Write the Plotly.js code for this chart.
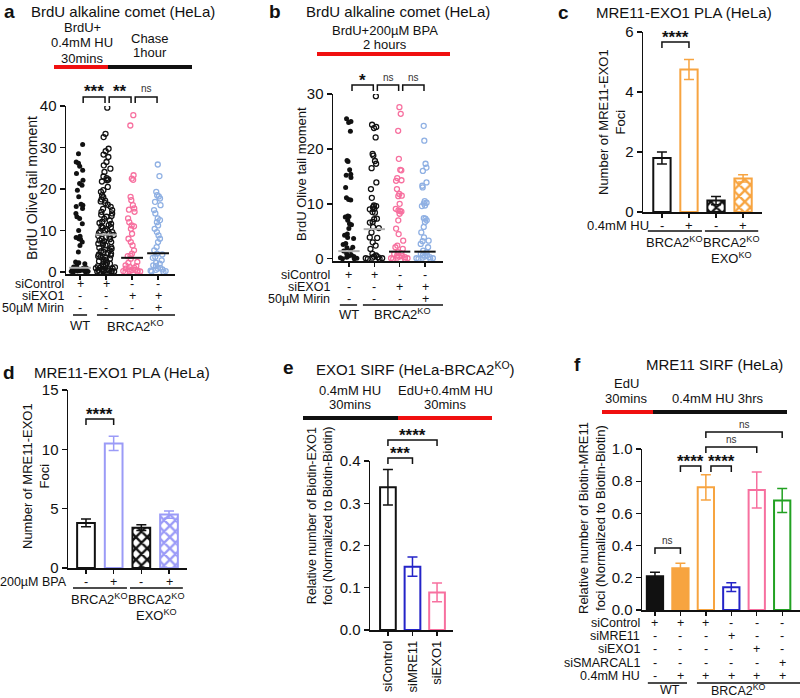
<!DOCTYPE html>
<html>
<head>
<meta charset="utf-8">
<script src="https://cdn.plot.ly/plotly-3.0.1.min.js"></script>
<style>body{margin:0;background:#fff}#plot{width:800px;height:698px}</style>
</head>
<body>
<div id="plot"></div>
<script>
// panel a - BrdU comet, HU then chase
var aWT = [30.7, 28.5, 26.5, 26.2, 25.5, 24.5, 23.7, 22.1, 21.3, 20.9, 19.7, 18.1, 16.3, 16.1, 15.8, 15.3,
  14.1, 13.3, 12.9, 11.6, 10.0, 8.6, 8.3, 8.0, 7.9, 7.2, 6.4, 4.8, 2.4, 2.2, 2.0, 1.5, 1.2, 1.0, 0.9,
  0.8, 0.6, 0.5, 0.4, 0.3, 0.3, 0.2, 0.1, 0.1, 0.0, 0.0];
var aKO = [39.6, 33.3, 32.5, 29.7, 29.1, 28.3, 27.7, 26.5, 25.7, 24.9, 24.1, 23.0, 22.6, 22.3, 22.1, 21.8,
  20.5, 19.7, 19.3, 18.5, 18.0, 17.5, 17.2, 17.0, 16.6, 16.2, 15.7, 15.2, 14.9, 14.5, 14.1, 13.8, 13.5,
  13.3, 12.8, 12.4, 12.1, 11.8, 11.6, 11.3, 11.0, 10.8, 10.6, 10.3, 10.0, 9.8, 9.6, 9.4, 9.2, 8.9, 8.7,
  8.5, 8.4, 8.0, 7.9, 7.6, 7.4, 7.2, 7.0, 6.8, 6.6, 6.4, 6.0, 5.8, 5.6, 5.4, 5.2, 5.0, 4.8, 4.6, 4.4,
  4.2, 4.0, 3.8, 3.6, 3.4, 3.2, 3.0, 2.8, 2.6, 2.4, 2.2, 2.0, 1.8, 1.6, 1.4, 1.3, 1.1, 1.0, 0.9, 0.8,
  0.7, 0.6, 0.5, 0.4, 0.3, 0.3, 0.2, 0.2, 0.1, 0.1, 0.0, 0.0];
var aEXO1 = [37.8, 35.3, 23.3, 22.5, 22.2, 18.1, 17.3, 16.1, 15.3, 15.0, 14.5, 12.9, 12.0, 11.2, 11.0,
  10.4, 9.2, 8.0, 7.2, 6.4, 5.2, 4.4, 3.9, 3.8, 3.2, 2.4, 2.2, 1.6, 1.4, 1.2, 1.0, 0.8, 0.6, 0.5, 0.4,
  0.3, 0.2, 0.2, 0.1, 0.0, 0.0];
var aMirin = [25.9, 23.1, 19.3, 18.5, 18.2, 17.7, 16.9, 16.1, 14.9, 14.1, 12.9, 12.5, 12.0, 11.2, 10.4,
  9.6, 8.8, 8.0, 7.2, 6.0, 5.2, 4.4, 4.2, 3.6, 3.4, 2.8, 2.2, 2.0, 1.6, 1.4, 1.0, 0.8, 0.6, 0.5, 0.3,
  0.2, 0.1, 0.0];
var aMedian = [1.0, 9.0, 3.4, 4.5];
var aSig = ['***', '**', 'ns'];

// panel b - BrdU comet, BPA
var bWT = [25.5, 25.0, 24.8, 23.2, 17.9, 17.7, 16.2, 15.4, 15.2, 14.8, 13.0, 11.1, 10.8, 10.7, 7.8, 7.7,
  7.6, 7.0, 6.4, 6.2, 5.5, 4.5, 4.3, 3.9, 3.7, 2.8, 2.6, 2.1, 2.0, 1.5, 1.4, 0.9, 0.7, 0.5, 0.4, 0.3,
  0.2, 0.1, 0.0, 0.0];
var bKO = [29.6, 24.4, 24.0, 23.8, 22.1, 19.1, 18.8, 17.8, 17.3, 16.5, 13.9, 12.7, 11.1, 9.7, 9.6, 9.4,
  9.1, 9.0, 8.5, 8.4, 7.3, 7.2, 6.7, 6.6, 5.8, 5.6, 4.8, 3.9, 3.8, 3.0, 2.4, 1.8, 0.9, 0.6, 0.4, 0.3,
  0.2, 0.1, 0.1, 0.0, 0.0];
var bEXO1 = [27.6, 26.4, 23.3, 18.2, 16.2, 16.1, 14.7, 14.3, 14.2, 12.7, 11.8, 11.5, 11.4, 10.0, 9.1,
  8.8, 8.7, 8.6, 8.2, 7.0, 5.5, 4.5, 3.3, 2.4, 2.1, 1.8, 1.2, 1.0, 0.9, 0.6, 0.5, 0.4, 0.3, 0.2, 0.1,
  0.1, 0.0, 0.0];
var bMirin = [24.2, 21.5, 17.3, 16.6, 16.0, 13.9, 13.3, 13.0, 10.5, 10.2, 10.1, 9.7, 9.6, 7.4, 7.3, 7.0,
  6.7, 5.8, 4.8, 3.9, 3.3, 3.2, 2.7, 2.1, 1.5, 1.2, 0.9, 0.7, 0.6, 0.4, 0.3, 0.2, 0.1, 0.1, 0.0, 0.0];
var bMedian = [1.4, 5.4, 1.3, 1.3];
var bSig = ['*', 'ns', 'ns'];

var cometRows = ['siControl', 'siEXO1', '50µM Mirin'];
var cometSigns = [['+', '+', '-', '-'], ['-', '-', '+', '+'], ['-', '-', '-', '+']];

// panel c - PLA with HU
var cVals = [1.8, 4.75, 0.38, 1.12];
var cErr = [0.2, 0.33, 0.14, 0.12];
var cSigns = ['-', '+', '-', '+'];
// panel d - PLA with BPA
var dVals = [3.8, 10.5, 3.4, 4.5];
var dErr = [0.33, 0.6, 0.25, 0.3];
var dSigns = ['-', '+', '-', '+'];
// panel e - EXO1 SIRF
var eLabels = ['siControl', 'siMRE11', 'siEXO1'];
var eVals = [0.338, 0.15, 0.089];
var eErr = [0.042, 0.023, 0.022];
// panel f - MRE11 SIRF
var fVals = [0.21, 0.26, 0.762, 0.142, 0.745, 0.68];
var fErr = [0.025, 0.03, 0.078, 0.027, 0.112, 0.075];
var fRows = ['siControl', 'siMRE11', 'siEXO1', 'siSMARCAL1', '0.4mM HU'];
var fSigns = [['+', '+', '+', '-', '-', '-'], ['-', '-', '-', '+', '-', '-'], ['-', '-', '-', '-', '+', '-'],
  ['-', '-', '-', '-', '-', '+'], ['-', '+', '+', '+', '+', '+']];

var BLACK = '#111', ORANGE = '#f7a440', PINK = '#f7709f', LBLUE = '#8fb0e3',
    PURPLE = '#9b9bf7', BLUE = '#2424c8', GREEN = '#22a122', RED = '#f01010';
var FONT = 'Liberation Sans, Arial, sans-serif';

var W = 800, H = 698;
function X(px) { return px / W; }
function Y(py) { return 1 - py / H; }
function idx(n) { var r = []; for (var i = 0; i < n; i++) r.push(i); return r; }

var traces = [], annotations = [], shapes = [];
var layout = {
  width: W, height: H, margin: {l: 0, r: 0, t: 0, b: 0}, showlegend: false,
  paper_bgcolor: 'white', plot_bgcolor: 'white', boxmode: 'overlay', barmode: 'overlay',
  font: {family: FONT, color: BLACK}
};

function text(s, x, y, size, xref, opts) {
  var a = {text: s, x: xref ? x : X(x), y: Y(y), xref: xref || 'paper', yref: 'paper',
    xanchor: 'center', yanchor: 'middle', showarrow: false, borderpad: 0,
    font: {family: FONT, size: size, color: BLACK}};
  for (var k in (opts || {})) a[k] = opts[k];
  annotations.push(a);
}
function hline(x0, x1, y, color, w, xref) {
  shapes.push({type: 'line', xref: xref || 'paper', yref: 'paper',
    x0: xref ? x0 : X(x0), x1: xref ? x1 : X(x1), y0: Y(y), y1: Y(y), line: {color: color, width: w}});
}
function bracket(xa, x1, x2, top, label) {
  var leg = Y(top + 6);
  shapes.push({type: 'path', xref: xa, yref: 'paper',
    path: 'M' + x1 + ',' + leg + ' L' + x1 + ',' + Y(top) + ' L' + x2 + ',' + Y(top) + ' L' + x2 + ',' + leg,
    line: {color: BLACK, width: 1.5}});
  if (label === 'ns') text('ns', (x1 + x2) / 2, top - 8, 10, xa, {font: {family: FONT, size: 10, color: '#333'}});
  else text(label, (x1 + x2) / 2, top - 5, 17, xa, {font: {family: FONT, size: 17, color: BLACK, weight: 'bold'}});
}
function title(letter, lx, name, tx, y) {
  text('<b>' + letter + '</b>', lx, y, 19, null, {xanchor: 'left', yanchor: 'top'});
  text(name, tx, y + 2, 15, null, {xanchor: 'left', yanchor: 'top'});
}

function axes(n, xpx, ypx, xrange, yrange, ytick, nx, yfmt) {
  var s = n === 1 ? '' : String(n);
  layout['xaxis' + s] = {domain: [X(xpx[0]), X(xpx[1])], range: xrange, anchor: 'y' + s,
    showline: true, linecolor: BLACK, linewidth: 1.5, ticks: 'outside', ticklen: 4, tickwidth: 1.3,
    tickcolor: BLACK, tickvals: idx(nx), showticklabels: false, showgrid: false, zeroline: false};
  layout['yaxis' + s] = {domain: [Y(ypx[1]), Y(ypx[0])], range: yrange, anchor: 'x' + s,
    showline: true, linecolor: BLACK, linewidth: 1.5, ticks: 'outside', ticklen: 5, tickwidth: 1.3,
    tickcolor: BLACK, tickvals: ytick, tickformat: yfmt || '', showgrid: false, zeroline: false,
    tickfont: {family: FONT, size: 15, color: BLACK}};
}

function cometPanel(xa, ya, groups, medians, sig, sigTop) {
  var colors = [BLACK, BLACK, PINK, LBLUE];
  groups.forEach(function (vals, i) {
    var open = i > 0;
    traces.push({type: 'box', x0: i, y: vals, xaxis: xa, yaxis: ya, boxpoints: 'all', jitter: 1,
      pointpos: 0, width: 0.8, fillcolor: 'rgba(0,0,0,0)', line: {color: 'rgba(0,0,0,0)', width: 0},
      whiskerwidth: 0, hoverinfo: 'y',
      marker: {symbol: open ? 'circle-open' : 'circle', size: 5, color: colors[i],
        line: {color: colors[i], width: open ? 1.3 : 0}}});
  });
  medians.forEach(function (m, i) {
    traces.push({type: 'scatter', mode: 'lines', x: [i - 0.42, i + 0.42], y: [m, m], xaxis: xa, yaxis: ya,
      line: {color: i < 2 ? '#b0b0b0' : BLACK, width: 2}, hoverinfo: 'skip'});
  });
  sig.forEach(function (s, i) { bracket(xa, i + 0.12, i + 0.96, sigTop, s); });
}

function barPanel(xa, ya, vals, errs, lines, fills, hatched) {
  vals.forEach(function (v, i) {
    var m = {color: fills[i], line: {color: lines[i], width: 2}};
    if (hatched[i]) m.pattern = {shape: 'x', fgcolor: lines[i], bgcolor: 'white', size: 8, solidity: 0.5, fillmode: 'replace'};
    traces.push({type: 'bar', x: [i], y: [v], width: 0.64, xaxis: xa, yaxis: ya, marker: m, hoverinfo: 'y',
      error_y: {type: 'data', array: [errs[i]], color: lines[i], thickness: 1.5, width: 5}});
  });
}

function rows(xa, labels, signs, ys, labelRight, size) {
  labels.forEach(function (lab, r) {
    text(lab, labelRight, ys[r], size, null, {xanchor: 'right'});
    signs[r].forEach(function (s, i) { text(s, i, ys[r], size, xa); });
  });
}

// ---------- panel a ----------
axes(1, [66, 175], [106, 274], [-0.54, 3.65], [-0.5, 40], [0, 10, 20, 30, 40], 4);
cometPanel('x', 'y', [aWT, aKO, aEXO1, aMirin], aMedian, aSig, 97);
title('a', 3, 'BrdU alkaline comet (HeLa)', 30, 0);
text('BrdU+', 82, 27, 13); text('0.4mM HU', 82, 43, 13); text('30mins', 82, 58, 13);
text('Chase', 150, 38, 13); text('1hour', 150, 53, 13);
hline(54, 108, 67, RED, 4); hline(108, 192, 67, BLACK, 4);
text('BrdU Olive tail moment', 32, 188, 14, null, {textangle: -90});
rows('x', cometRows, cometSigns, [284, 296, 308], 65, 12.5);
hline(-0.27, 0.27, 315, BLACK, 1.5, 'x'); hline(0.65, 3.65, 315, BLACK, 1.5, 'x');
text('WT', 0, 326, 13, 'x'); text('BRCA2<sup>KO</sup>', 2.15, 326, 13, 'x');

// ---------- panel b ----------
axes(2, [333, 443], [94, 261], [-0.63, 3.71], [-0.4, 30], [0, 10, 20, 30], 4);
cometPanel('x2', 'y2', [bWT, bKO, bEXO1, bMirin], bMedian, bSig, 85);
title('b', 268, 'BrdU alkaline comet (HeLa)', 305, 0);
text('BrdU+200µM BPA', 385, 30, 13); text('2 hours', 385, 45, 13);
hline(317, 450, 54, RED, 4);
text('BrdU Olive tail moment', 302, 174, 13, null, {textangle: -90});
rows('x2', cometRows, cometSigns, [275, 287, 299], 331, 12.5);
hline(-0.36, 0.32, 305, BLACK, 1.5, 'x2'); hline(0.55, 3.71, 305, BLACK, 1.5, 'x2');
text('WT', 0, 314, 13, 'x2'); text('BRCA2<sup>KO</sup>', 2.1, 314, 13, 'x2');

// ---------- panel c ----------
axes(3, [643, 762], [32, 212], [-0.7, 3.7], [0, 6], [0, 2, 4, 6], 4);
barPanel('x3', 'y3', cVals, cErr, [BLACK, ORANGE, BLACK, ORANGE], ['white', 'white', 'white', 'white'], [0, 0, 1, 1]);
bracket('x3', 0, 1, 42, '****');
title('c', 557, 'MRE11-EXO1 PLA (HeLa)', 595, 1);
text('Number of MRE11-EXO1<br>Foci', 612, 122, 13, null, {textangle: -90});
rows('x3', ['0.4mM HU'], [cSigns], [225], 650, 13);
hline(-0.52, 1.48, 231, BLACK, 1.5, 'x3'); hline(1.59, 3.56, 231, BLACK, 1.5, 'x3');
text('BRCA2<sup>KO</sup>', 0.48, 242, 13, 'x3'); text('BRCA2<sup>KO</sup>', 2.57, 242, 13, 'x3');
text('EXO<sup>KO</sup>', 2.57, 258, 13, 'x3');

// ---------- panel d ----------
axes(4, [68, 187], [390, 568], [-0.65, 3.65], [0, 15], [0, 5, 10, 15], 4);
barPanel('x4', 'y4', dVals, dErr, [BLACK, PURPLE, BLACK, PURPLE], ['white', 'white', 'white', 'white'], [0, 0, 1, 1]);
bracket('x4', 0, 1, 419, '****');
title('d', 2, 'MRE11-EXO1 PLA (HeLa)', 33, 361);
text('Number of MRE11-EXO1<br>Foci', 36, 476, 13, null, {textangle: -90});
rows('x4', ['200µM BPA'], [dSigns], [582], 68, 12.5);
hline(-0.47, 1.48, 588, BLACK, 1.5, 'x4'); hline(1.59, 3.5, 588, BLACK, 1.5, 'x4');
text('BRCA2<sup>KO</sup>', 0.5, 599, 13, 'x4'); text('BRCA2<sup>KO</sup>', 2.55, 599, 13, 'x4');
text('EXO<sup>KO</sup>', 2.55, 615, 13, 'x4');

// ---------- panel e ----------
axes(5, [370, 453], [461, 630], [-0.73, 2.65], [0, 0.4], [0, 0.1, 0.2, 0.3, 0.4], 3, '.1f');
layout.xaxis5.showticklabels = true;
layout.xaxis5.ticktext = eLabels;
layout.xaxis5.tickangle = -90;
layout.xaxis5.tickfont = {family: FONT, size: 13, color: BLACK};
barPanel('x5', 'y5', eVals, eErr, [BLACK, BLUE, PINK], ['white', 'white', 'white'], [0, 0, 0]);
bracket('x5', 0, 2, 440, '****');
bracket('x5', 0, 1, 458, '***');
title('e', 282, 'EXO1 SIRF (HeLa-BRCA2<sup>KO</sup>)', 315, 356);
text('0.4mM HU', 350, 390, 13); text('30mins', 350, 405, 13);
text('EdU+0.4mM HU', 445, 390, 13); text('30mins', 445, 405, 13);
hline(303, 398, 418, BLACK, 4); hline(398, 492, 418, RED, 4);
text('Relative number of Biotin-EXO1<br>foci (Normalized to Biotin-Biotin)', 320, 516, 12.5, null, {textangle: -90});

// ---------- panel f ----------
axes(6, [642, 800], [449, 610], [-0.51, 5.7], [0, 1], [0, 0.2, 0.4, 0.6, 0.8, 1.0], 6, '.1f');
barPanel('x6', 'y6', fVals, fErr, [BLACK, ORANGE, ORANGE, BLUE, PINK, GREEN],
  [BLACK, ORANGE, 'white', 'white', 'white', 'white'], [0, 0, 0, 0, 0, 0]);
bracket('x6', 2, 5, 432, 'ns');
bracket('x6', 2, 4, 447, 'ns');
bracket('x6', 1, 1.8, 466, '****');
bracket('x6', 2.2, 3, 466, '****');
bracket('x6', 0, 1, 548, 'ns');
title('f', 573, 'MRE11 SIRF (HeLa)', 645, 353);
text('EdU', 626, 383, 13); text('30mins', 626, 398, 13);
text('0.4mM HU 3hrs', 718, 398, 13);
hline(602, 653, 412, RED, 4); hline(653, 787, 412, BLACK, 4);
text('Relative number of Biotin-MRE11<br>foci (Normalized to Biotin-Biotin)', 592, 518, 13, null, {textangle: -90});
rows('x6', fRows, fSigns, [623, 636, 649, 663, 676], 641, 12.5);
hline(-0.28, 1.26, 683, BLACK, 1.5, 'x6'); hline(1.65, 5.7, 683, BLACK, 1.5, 'x6');
text('WT', 0.6, 690, 12.5, 'x6'); text('BRCA2<sup>KO</sup>', 3.3, 690, 12.5, 'x6');

layout.annotations = annotations;
layout.shapes = shapes;
Plotly.newPlot('plot', traces, layout, {staticPlot: true});
</script>
</body>
</html>
